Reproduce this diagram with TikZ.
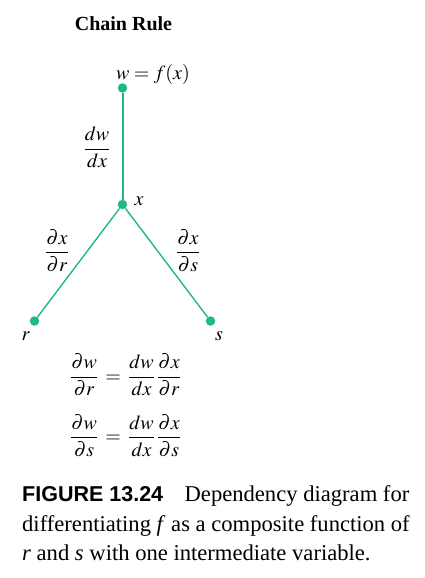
\documentclass[tikz,border=0pt]{standalone}
\usepackage{amsmath}
\usepackage{mathptmx}
\usepackage[no-math]{fontspec}
\setmainfont{Liberation Serif}
\newfontfamily\capsans{Liberation Sans}
\definecolor{chaingreen}{RGB}{32,185,130}
\begin{document}
\begin{tikzpicture}[x=1pt,y=-1pt,
  dot/.style={circle,fill=chaingreen,inner sep=0pt,minimum size=9.5pt},
  edge/.style={draw=chaingreen,line width=1.4pt},
  mathtxt/.style={font=\fontsize{20}{24}\selectfont,inner sep=0pt},
  captxt/.style={font=\fontsize{22.6}{29}\selectfont,inner sep=0pt,anchor=base west}]
\useasboundingbox (0,0) rectangle (424,578);
\node[font=\fontsize{20}{24}\selectfont\bfseries,anchor=base,inner sep=0pt] (title) at (123.5,31) {Chain Rule};
\node[dot] (w) at (122.5,88) {};
\node[dot] (x) at (122.5,204.5) {};
\node[dot] (r) at (34.5,321) {};
\node[dot] (s) at (210.5,321) {};
\draw[edge,line width=2pt] (w) -- (x);
\draw[edge] (x) -- (r);
\draw[edge] (x) -- (s);
\node[mathtxt,anchor=base west] (wl) at (116,80) {$w = f(x)$};
\node[mathtxt,anchor=base west] (xl) at (134.5,205) {$x$};
\node[mathtxt,anchor=base east] (rl) at (30,340) {$r$};
\node[mathtxt,anchor=base west] (sl) at (215,340) {$s$};
\node[mathtxt,anchor=base] (dwdx) at (97,154) {$\dfrac{dw}{dx}$};
\node[mathtxt,anchor=base] (dxdr) at (57,257.8) {$\dfrac{\partial x}{\partial r}$};
\node[mathtxt,anchor=base] (dxds) at (188,257.8) {$\dfrac{\partial x}{\partial s}$};
\node[mathtxt,anchor=base] (eq1) at (125.5,382) {$\dfrac{\partial w}{\partial r} \:=\: \dfrac{dw}{dx}\,\dfrac{\partial x}{\partial r}$};
\node[mathtxt,anchor=base] (eq2) at (125.5,442.8) {$\dfrac{\partial w}{\partial s} \:=\: \dfrac{dw}{dx}\,\dfrac{\partial x}{\partial s}$};
\node[captxt] (cap1) at (22,501) {{\capsans\bfseries\fontsize{21.5}{29}\selectfont FIGURE 13.24}\hspace{0.95em}Dependency diagram for};
\node[captxt] (cap2) at (22,531) {differentiating \textit{f} as a composite function of};
\node[captxt] (cap3) at (22,560) {\textit{r} and \textit{s} with one intermediate variable.};
\end{tikzpicture}
\end{document}
